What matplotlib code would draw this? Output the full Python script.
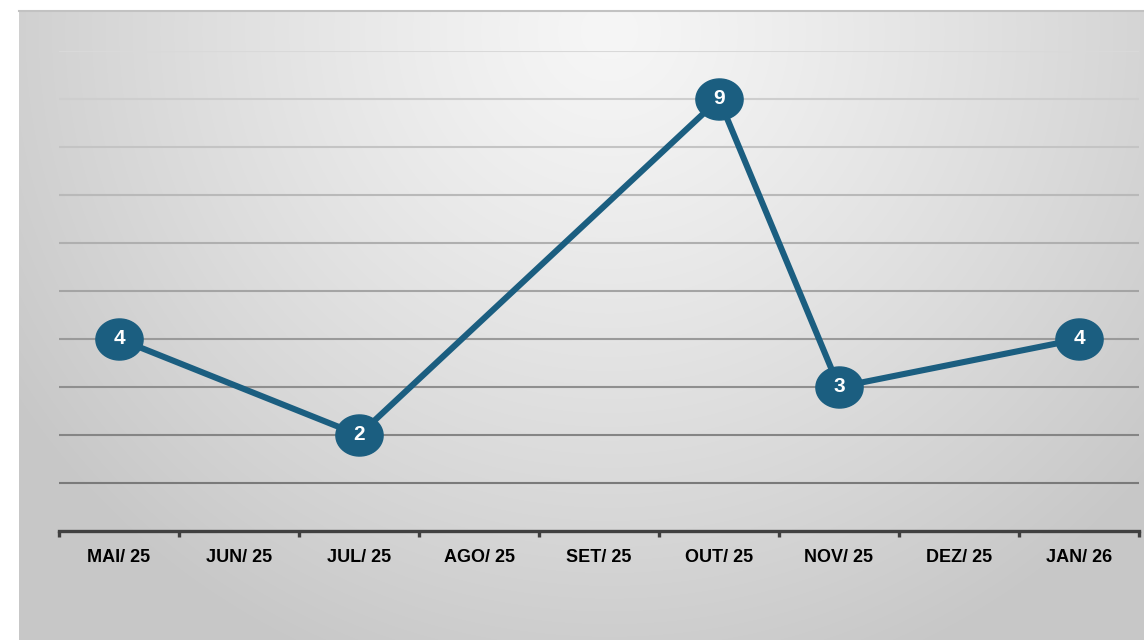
import numpy as np
import pandas as pd
import matplotlib
matplotlib.use('Agg')
import matplotlib.pyplot as plt
from matplotlib.path import Path

# # Data

months = ['MAI/ 25', 'JUN/ 25', 'JUL/ 25', 'AGO/ 25', 'SET/ 25', 'OUT/ 25', 'NOV/ 25', 'DEZ/ 25', 'JAN/ 26']
values = [4, np.nan, 2, np.nan, np.nan, 9, 3, np.nan, 4]

line_color = '#1b5e80'

plt.rcParams['font.family'] = ['Liberation Sans', 'DejaVu Sans']

series = pd.Series(values, index=range(len(months))).dropna()

# # Figure

fig = plt.figure(figsize=(11.44, 6.4), dpi=100)
fig.patch.set_facecolor('white')

# background panel with radial gradient
ax_bg = fig.add_axes([19 / 1144, 0, 1125 / 1144, 629 / 640])
h, w = 629, 1125
yy, xx = np.mgrid[0:h, 0:w]
d = np.sqrt(((xx - 590) / 700.0) ** 2 + ((yy - 20) / 680.0) ** 2)
shade = 246 - 46 * np.clip(d, 0, 1.3) ** 1.2
shade = np.clip(shade, 199, 250) / 255.0
ax_bg.imshow(np.dstack([shade, shade, shade]), aspect='auto', extent=[0, 1, 0, 1])
ax_bg.set_xticks([])
ax_bg.set_yticks([])
for s in ['left', 'bottom', 'right']:
    ax_bg.spines[s].set_visible(False)
ax_bg.spines['top'].set_color('#c2c2c2')
ax_bg.spines['top'].set_linewidth(1.5)

# main chart
ax = fig.add_axes([59 / 1144, (640 - 531) / 640, 1080 / 1144, 480 / 640])
ax.patch.set_alpha(0)

ax.set_xlim(-0.5, len(months) - 0.5)
ax.set_ylim(0, 10)

# gridlines, darker towards the bottom
ax.set_yticks(range(1, 11))
ax.tick_params(axis='y', length=0, labelleft=False)
ax.grid(axis='y', linewidth=1.5)
for lvl, gl in zip(range(1, 11), ax.get_ygridlines()):
    g = 0.48 + (lvl - 1) / 9 * 0.37
    gl.set_color((g, g, g))
ax.set_axisbelow(True)

for s in ['left', 'right', 'top']:
    ax.spines[s].set_visible(False)
ax.spines['bottom'].set_color('#404040')
ax.spines['bottom'].set_linewidth(2.4)

# ticks between categories, labels at categories
ax.set_xticks(np.arange(-0.5, len(months), 1.0))
ax.set_xticklabels([])
ax.tick_params(axis='x', which='major', direction='out', length=4, width=2.4, color='#404040')
ax.set_xticks(range(len(months)), minor=True)
ax.set_xticklabels(months, minor=True, fontsize=13, fontweight='bold', color='black')
ax.tick_params(axis='x', which='minor', length=0, pad=13)

# ellipse marker
t = np.linspace(0, 2 * np.pi, 60)
ellipse = Path(np.column_stack([np.cos(t) * 1.0, np.sin(t) * 0.87]), closed=True)

ax.plot(series.index, series.values, color=line_color, linewidth=4.4,
        marker=ellipse, markersize=34, markerfacecolor=line_color,
        markeredgecolor=line_color, clip_on=False, zorder=3)

for xi, v in series.items():
    ax.text(xi, v, str(int(v)), color='white', fontsize=15, fontweight='bold',
            ha='center', va='center', zorder=4)

plt.savefig('out.png', dpi=100)
